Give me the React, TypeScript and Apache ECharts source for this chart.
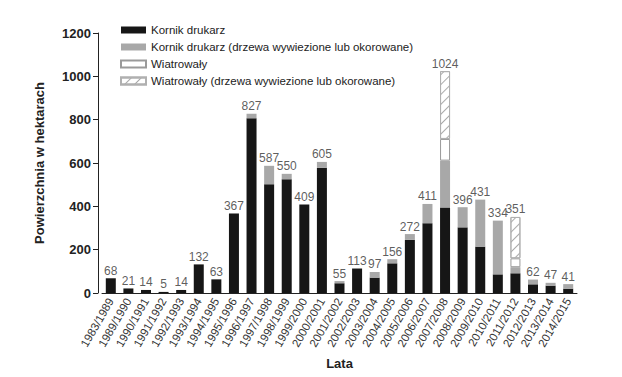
import React, { useEffect, useRef } from "react";
import * as echarts from "echarts";

const categories = [
  "1983/1989", "1989/1990", "1990/1991", "1991/1992", "1992/1993", "1993/1994",
  "1994/1995", "1995/1996", "1996/1997", "1997/1998", "1998/1999", "1999/2000",
  "2000/2001", "2001/2002", "2002/2003", "2003/2004", "2004/2005", "2005/2006",
  "2006/2007", "2007/2008", "2008/2009", "2009/2010", "2010/2011", "2011/2012",
  "2012/2013", "2013/2014", "2014/2015",
];
const kornik = [68, 21, 14, 5, 14, 132, 63, 367, 806, 502, 525, 409, 578, 45, 113, 71, 137, 245, 322, 395, 303, 214, 86, 91, 40, 34, 20];
const kornikWyw = [0, 0, 0, 0, 0, 0, 0, 0, 21, 85, 25, 0, 27, 10, 0, 26, 19, 27, 89, 216, 93, 217, 248, 28, 22, 13, 21];
const wiatr = [0, 0, 0, 0, 0, 0, 0, 0, 0, 0, 0, 0, 0, 0, 0, 0, 0, 0, 0, 100, 0, 0, 0, 41, 0, 0, 0];
const wiatrWyw = [0, 0, 0, 0, 0, 0, 0, 0, 0, 0, 0, 0, 0, 0, 0, 0, 0, 0, 0, 313, 0, 0, 0, 191, 0, 0, 0];
const totals = [68, 21, 14, 5, 14, 132, 63, 367, 827, 587, 550, 409, 605, 55, 113, 97, 156, 272, 411, 1024, 396, 431, 334, 351, 62, 47, 41];
const seriesNames = [
  "Kornik drukarz",
  "Kornik drukarz (drzewa wywiezione lub okorowane)",
  "Wiatrowały",
  "Wiatrowały (drzewa wywiezione lub okorowane)",
];

const FONT = "'Liberation Sans', Arial, sans-serif";

export default function App() {
  const ref = useRef<HTMLDivElement>(null);
  useEffect(() => {
    document.body.style.margin = "0";
    const chart = echarts.init(ref.current!, null, { renderer: "svg" });
    const toData = (arr: number[]) => arr.map((v) => (v === 0 ? null : v));
    chart.setOption({
      animation: false,
      backgroundColor: "#ffffff",
      textStyle: { fontFamily: FONT },
      grid: { left: 102, right: 45, top: 33, bottom: 84 },
      legend: {
        orient: "vertical",
        left: 115,
        top: 19,
        itemWidth: 25,
        itemHeight: 7,
        itemGap: 5,
        icon: "rect",
        data: seriesNames,
        textStyle: { fontSize: 11.5, color: "#222", fontFamily: FONT },
      },
      xAxis: {
        type: "category",
        data: categories,
        name: "Lata",
        nameLocation: "middle",
        nameGap: 64,
        nameTextStyle: { fontWeight: "bold", fontSize: 13, color: "#222", fontFamily: FONT },
        axisLine: { lineStyle: { color: "#222", width: 1 } },
        axisTick: { alignWithLabel: true, length: 5, lineStyle: { color: "#222" } },
        axisLabel: { rotate: 60, fontSize: 11.5, color: "#333", margin: 6, interval: 0, fontFamily: FONT },
      },
      yAxis: {
        type: "value",
        min: 0,
        max: 1200,
        interval: 200,
        offset: 4,
        name: "Powierzchnia w hektarach",
        nameLocation: "middle",
        nameGap: 52,
        nameTextStyle: { fontWeight: "bold", fontSize: 13, color: "#222", fontFamily: FONT },
        axisLine: { show: true, lineStyle: { color: "#222", width: 1 } },
        axisTick: { show: true, length: 5, lineStyle: { color: "#222" } },
        axisLabel: {
          fontWeight: "bold",
          fontSize: 13,
          color: "#222",
          margin: 7,
          fontFamily: FONT,
          formatter: (v: number) => String(v),
        },
        splitLine: { show: false },
      },
      series: [
        {
          name: seriesNames[0],
          type: "bar",
          stack: "a",
          barWidth: 10,
          data: toData(kornik),
          itemStyle: { color: "#161616" },
        },
        {
          name: seriesNames[1],
          type: "bar",
          stack: "a",
          data: toData(kornikWyw),
          itemStyle: { color: "#a8a8a8" },
        },
        {
          name: seriesNames[2],
          type: "bar",
          stack: "a",
          data: toData(wiatr),
          itemStyle: { color: "#ffffff", borderColor: "#9a9a9a", borderWidth: 1 },
        },
        {
          name: seriesNames[3],
          type: "bar",
          stack: "a",
          data: toData(wiatrWyw),
          itemStyle: {
            color: "#ffffff",
            borderColor: "#b0b0b0",
            borderWidth: 1,
            decal: {
              symbol: "rect",
              dashArrayX: [1, 0],
              dashArrayY: [1, 6],
              rotation: -Math.PI / 4,
              color: "#aaaaaa",
            },
          },
        },
        {
          name: "totals",
          type: "scatter",
          data: totals,
          symbolSize: 1,
          itemStyle: { color: "rgba(0,0,0,0)" },
          label: {
            show: true,
            position: "top",
            distance: 1,
            fontSize: 12,
            color: "#333",
            fontFamily: FONT,
            formatter: (p: any) => String(p.value),
          },
          silent: true,
        },
      ],
    });
    return () => chart.dispose();
  }, []);
  return <div ref={ref} style={{ width: 622, height: 377 }} />;
}
